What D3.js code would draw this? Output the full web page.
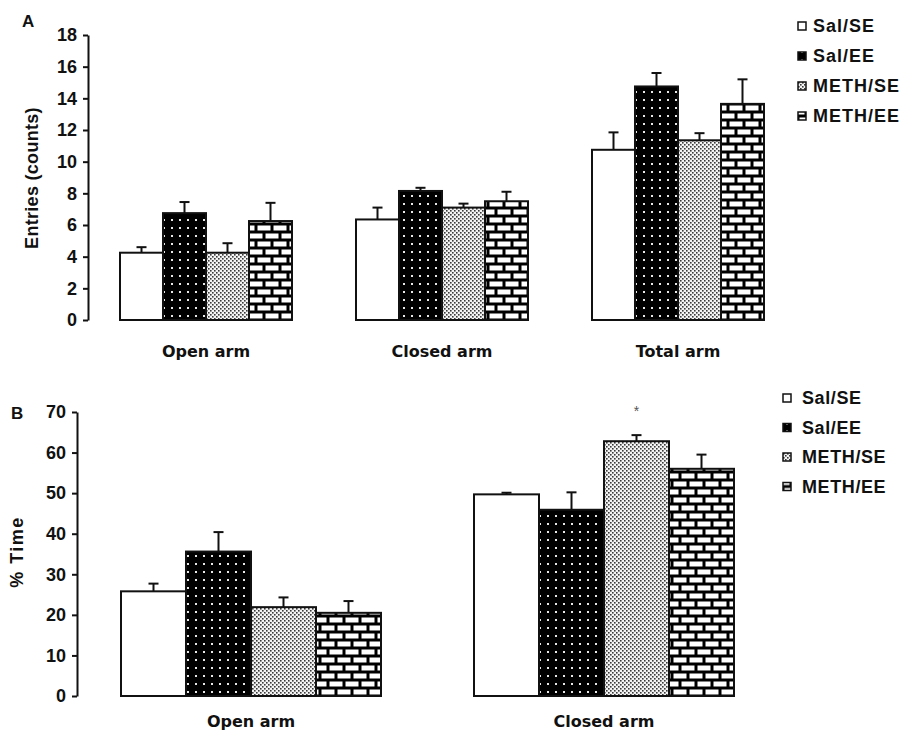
<!DOCTYPE html>
<html>
<head>
<meta charset="utf-8">
<script src="https://cdn.jsdelivr.net/npm/d3@7"></script>
<style>
  html, body { margin: 0; padding: 0; background: #fff; }
  svg { display: block; }
  .tick text { font-family: "Liberation Sans", Arial, sans-serif; font-weight: bold; font-size: 18px; fill: #111; }
</style>
</head>
<body>
<svg id="chart" width="906" height="733"></svg>
<script>
// Groups (treatment / housing)
const groups = ["Sal/SE", "Sal/EE", "METH/SE", "METH/EE"];

// Panel A: arm entries (counts), mean and SEM per group
const armsA = ["Open arm", "Closed arm", "Total arm"];
const entriesSalSE   = [4.25, 6.35, 10.75];
const entriesSalEE   = [6.75, 8.15, 14.75];
const entriesMethSE  = [4.25, 7.1, 11.35];
const entriesMethEE  = [6.25, 7.5, 13.65];
const entriesSemSalSE  = [0.35, 0.75, 1.1];
const entriesSemSalEE  = [0.7, 0.2, 0.85];
const entriesSemMethSE = [0.6, 0.25, 0.45];
const entriesSemMethEE = [1.15, 0.6, 1.55];
const entriesTicks = [0, 2, 4, 6, 8, 10, 12, 14, 16, 18];

// Panel B: % time spent in each arm, mean and SEM per group
const armsB = ["Open arm", "Closed arm"];
const timeSalSE   = [25.8, 49.7];
const timeSalEE   = [35.6, 45.9];
const timeMethSE  = [21.9, 62.8];
const timeMethEE  = [20.5, 56.0];
const timeSemSalSE  = [1.9, 0.4];
const timeSemSalEE  = [4.8, 4.3];
const timeSemMethSE = [2.4, 1.5];
const timeSemMethEE = [2.9, 3.5];
const timeTicks = [0, 10, 20, 30, 40, 50, 60, 70];
// significance marker: group index, arm index
const timeStars = [{ group: 2, arm: 1 }];

const svg = d3.select("#chart");
const defs = svg.append("defs");

// ---- fill patterns ----
function patSalEE(id) {
  const p = defs.append("pattern").attr("id", id).attr("patternUnits", "userSpaceOnUse")
    .attr("width", 8).attr("height", 8);
  p.append("rect").attr("width", 8).attr("height", 8).attr("fill", "#000");
  p.append("rect").attr("x", 3).attr("y", 3).attr("width", 2).attr("height", 2).attr("fill", "#e8e8e8");
}
function patMethSE(id) {
  const p = defs.append("pattern").attr("id", id).attr("patternUnits", "userSpaceOnUse")
    .attr("width", 4).attr("height", 4);
  p.append("rect").attr("width", 4).attr("height", 4).attr("fill", "#f4f4f4");
  p.append("rect").attr("x", 0).attr("y", 0).attr("width", 1.6).attr("height", 1.6).attr("fill", "#3a3a3a");
  p.append("rect").attr("x", 2).attr("y", 2).attr("width", 1.6).attr("height", 1.6).attr("fill", "#3a3a3a");
}
function patBrick(id) {
  const p = defs.append("pattern").attr("id", id).attr("patternUnits", "userSpaceOnUse")
    .attr("width", 16).attr("height", 16);
  p.append("rect").attr("width", 16).attr("height", 16).attr("fill", "#000");
  p.append("rect").attr("x", 1.5).attr("y", 1.5).attr("width", 13).attr("height", 5).attr("fill", "#fff");
  p.append("rect").attr("x", 9.5).attr("y", 9.5).attr("width", 13).attr("height", 5).attr("fill", "#fff");
  p.append("rect").attr("x", -6.5).attr("y", 9.5).attr("width", 13).attr("height", 5).attr("fill", "#fff");
}
patSalEE("pSalEE"); patMethSE("pMethSE"); patBrick("pMethEE");
const fills = ["#fff", "url(#pSalEE)", "url(#pMethSE)", "url(#pMethEE)"];

const sans = "'Liberation Sans', Arial, sans-serif";

// ---- one bar panel ----
function panel(cfg) {
  const g = svg.append("g");
  const y = d3.scaleLinear().domain(cfg.domain).range([cfg.y0, cfg.y1]);
  const x = d3.scaleBand().domain(cfg.arms).range(cfg.xr)
    .paddingInner(cfg.pad).paddingOuter(cfg.pad / 2);
  const xs = d3.scaleBand().domain(groups).range([0, x.bandwidth()]).padding(0);

  // y axis
  const ax = g.append("g").attr("class", "axis")
    .attr("transform", `translate(${cfg.axisX},0)`)
    .call(d3.axisLeft(y).tickValues(cfg.ticks).tickSize(5).tickPadding(6).tickSizeOuter(0));
  ax.select(".domain").attr("stroke", "#111").attr("stroke-width", 2);
  ax.selectAll(".tick line").attr("stroke", "#111").attr("stroke-width", 2);

  const rows = [];
  cfg.arms.forEach((arm, i) => {
    groups.forEach((grp, j) => {
      rows.push({ arm, grp, j, v: cfg.means[j][i], e: cfg.sems[j][i] });
    });
  });
  const cx = d => x(d.arm) + xs(d.grp) + xs.bandwidth() / 2;

  // error bars (upper only)
  const eb = g.append("g").selectAll("g").data(rows).join("g");
  eb.append("line")
    .attr("x1", cx).attr("x2", cx)
    .attr("y1", d => y(d.v)).attr("y2", d => y(d.v + d.e))
    .attr("stroke", "#111").attr("stroke-width", 2);
  eb.append("line")
    .attr("x1", d => cx(d) - 5).attr("x2", d => cx(d) + 5)
    .attr("y1", d => y(d.v + d.e)).attr("y2", d => y(d.v + d.e))
    .attr("stroke", "#111").attr("stroke-width", 2);

  // bars
  g.append("g").selectAll("rect").data(rows).join("rect")
    .attr("x", d => x(d.arm) + xs(d.grp))
    .attr("y", d => y(d.v))
    .attr("width", xs.bandwidth())
    .attr("height", d => y(0) - y(d.v))
    .attr("fill", d => fills[d.j])
    .attr("stroke", "#111").attr("stroke-width", 2);

  // category labels
  g.append("g").selectAll("text").data(cfg.arms).join("text")
    .attr("x", d => x(d) + x.bandwidth() / 2)
    .attr("y", cfg.catY)
    .attr("text-anchor", "middle")
    .style("font-family", "'DejaVu Sans', Verdana, sans-serif")
    .style("font-weight", "bold").style("font-size", "16px").attr("fill", "#111")
    .text(d => d);

  // y title
  g.append("text")
    .attr("transform", `translate(${cfg.titleX},${cfg.titleY}) rotate(-90)`)
    .attr("text-anchor", "middle")
    .style("font-family", sans)
    .style("font-size", "18px").style("font-weight", "bold")
    .style("letter-spacing", cfg.titleSpacing).attr("fill", "#111")
    .text(cfg.title);

  // panel letter
  g.append("text").attr("x", cfg.letterX).attr("y", cfg.letterY)
    .style("font-family", sans)
    .style("font-size", "17px").style("font-weight", "bold").attr("fill", "#111")
    .text(cfg.letter);

  // stars
  (cfg.stars || []).forEach(s => {
    const grp = groups[s.group], arm = cfg.arms[s.arm];
    const top = cfg.means[s.group][s.arm] + cfg.sems[s.group][s.arm];
    g.append("text")
      .attr("x", x(arm) + xs(grp) + xs.bandwidth() / 2)
      .attr("y", y(top) - 19)
      .attr("text-anchor", "middle")
      .style("font-family", sans)
      .style("font-size", "14px").attr("fill", "#555")
      .text("*");
  });

  // legend
  const lg = g.append("g").selectAll("g").data(groups).join("g")
    .attr("transform", (d, i) => `translate(${cfg.legX},${cfg.legY + i * cfg.legStep})`);
  lg.append("rect").attr("x", 0).attr("y", -4).attr("width", 8).attr("height", 8)
    .attr("fill", (d, i) => fills[i]).attr("stroke", "#111").attr("stroke-width", 1.5);
  lg.append("text").attr("x", cfg.legTextDx).attr("y", 0).attr("dy", "0.35em")
    .style("font-family", sans)
    .style("font-size", "18px").style("font-weight", "bold")
    .style("letter-spacing", cfg.legSpacing).attr("fill", "#111")
    .text(d => d);
}

panel({
  arms: armsA,
  means: [entriesSalSE, entriesSalEE, entriesMethSE, entriesMethEE],
  sems: [entriesSemSalSE, entriesSemSalEE, entriesSemMethSE, entriesSemMethEE],
  domain: [0, 18], ticks: entriesTicks,
  y0: 320, y1: 35, axisX: 88,
  xr: [88, 796], pad: 64 / 236,
  catY: 357,
  title: "Entries (counts)", titleX: 38, titleY: 178, titleSpacing: "0.3px",
  letter: "A", letterX: 22, letterY: 27,
  legX: 798, legY: 26, legStep: 30, legTextDx: 15, legSpacing: "1px"
});

panel({
  arms: armsB,
  means: [timeSalSE, timeSalEE, timeMethSE, timeMethEE],
  sems: [timeSemSalSE, timeSemSalEE, timeSemMethSE, timeSemMethEE],
  domain: [0, 70], ticks: timeTicks,
  y0: 696, y1: 412, axisX: 77,
  xr: [74.5, 780.5], pad: 93 / 353,
  catY: 727,
  title: "% Time", titleX: 23, titleY: 552, titleSpacing: "1.5px",
  letter: "B", letterX: 11, letterY: 419,
  stars: timeStars,
  legX: 783, legY: 398, legStep: 29.5, legTextDx: 19, legSpacing: "0.6px"
});
</script>
</body>
</html>
